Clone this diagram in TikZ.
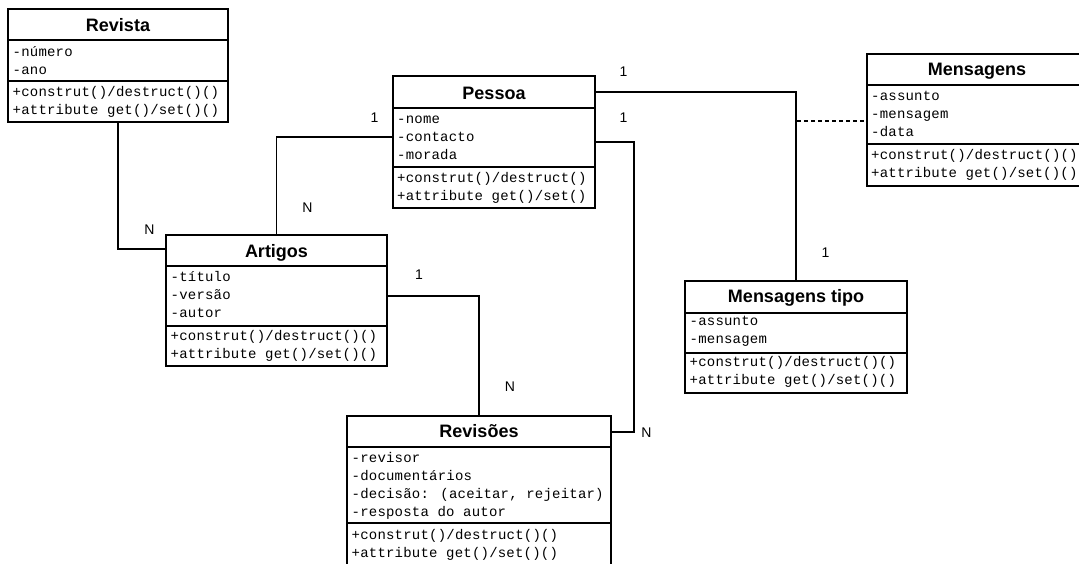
\documentclass[tikz,border=0pt]{standalone}
\usepackage{fontspec}
\setmainfont{Liberation Sans}
\newfontfamily\monof[LetterSpace=1.5]{Liberation Mono}
\usetikzlibrary{calc}
\begin{document}
\begin{tikzpicture}[x=1pt,y=-1pt,
  box/.style={draw, line width=1.6pt, inner sep=0pt, outer sep=0pt, anchor=north west},
  sep/.style={line width=1.6pt},
  ttl/.style={font=\fontsize{18}{20}\selectfont\bfseries, anchor=base, inner sep=0pt},
  attr/.style={font=\monof\fontsize{14}{18}\selectfont, anchor=base west, inner sep=0pt},
  conn/.style={line width=1.6pt},
  card/.style={font=\fontsize{14}{16}\selectfont, inner sep=0pt, anchor=center}]
\useasboundingbox (0,0) rectangle (1079,563);
\fill[white] (0,0) rectangle (1079,563);

% Revista
\node[box, minimum width=220pt, minimum height=113pt] (rev) at (8,9) {};
\draw[sep] (rev.west |- 0,40) -- (rev.east |- 0,40);
\draw[sep] (rev.west |- 0,81) -- (rev.east |- 0,81);
\node[ttl] (revT) at (118,31) {Revista};
\node[attr] (revA1) at (12.5,56) {-número};
\node[attr] (revA2) at (12.5,74) {-ano};
\node[attr] (revM1) at (12.5,96.5) {+construt()/destruct()()};
\node[attr] (revM2) at (12.5,114.5) {+attribute get()/set()()};

% Pessoa
\node[box, minimum width=202pt, minimum height=132pt] (pes) at (393,76) {};
\draw[sep] (pes.west |- 0,108) -- (pes.east |- 0,108);
\draw[sep] (pes.west |- 0,167) -- (pes.east |- 0,167);
\node[ttl] (pesT) at (494,99) {Pessoa};
\node[attr] (pesA1) at (397,123.5) {-nome};
\node[attr] (pesA2) at (397,141.5) {-contacto};
\node[attr] (pesA3) at (397,159.5) {-morada};
\node[attr] (pesM1) at (397,182) {+construt()/destruct()};
\node[attr] (pesM2) at (397,200) {+attribute get()/set()};

% Mensagens
\node[box, minimum width=220pt, minimum height=132pt] (msg) at (867,54) {};
\draw[sep] (msg.west |- 0,85) -- (msg.east |- 0,85);
\draw[sep] (msg.west |- 0,144) -- (msg.east |- 0,144);
\node[ttl] (msgT) at (977,75.7) {Mensagens};
\node[attr] (msgA1) at (871,100) {-assunto};
\node[attr] (msgA2) at (871,118) {-mensagem};
\node[attr] (msgA3) at (871,136) {-data};
\node[attr] (msgM1) at (871,159) {+construt()/destruct()()};
\node[attr] (msgM2) at (871,177) {+attribute get()/set()()};

% Artigos
\node[box, minimum width=221pt, minimum height=131pt] (art) at (166,235) {};
\draw[sep] (art.west |- 0,266) -- (art.east |- 0,266);
\draw[sep] (art.west |- 0,326) -- (art.east |- 0,326);
\node[ttl] (artT) at (276.5,257) {Artigos};
\node[attr] (artA1) at (170.5,281) {-título};
\node[attr] (artA2) at (170.5,299) {-versão};
\node[attr] (artA3) at (170.5,317) {-autor};
\node[attr] (artM1) at (170.5,340) {+construt()/destruct()()};
\node[attr] (artM2) at (170.5,358) {+attribute get()/set()()};

% Revisoes
\node[box, minimum width=264pt, minimum height=152pt] (rvs) at (347,416) {};
\draw[sep] (rvs.west |- 0,447) -- (rvs.east |- 0,447);
\draw[sep] (rvs.west |- 0,523) -- (rvs.east |- 0,523);
\node[ttl] (rvsT) at (479,437.5) {Revisões};
\node[attr] (rvsA1) at (351.5,462.5) {-revisor};
\node[attr] (rvsA2) at (351.5,480.5) {-documentários};
\node[attr] (rvsA3) at (351.5,498.5) {-decisão: (aceitar, rejeitar)};
\node[attr] (rvsA4) at (351.5,516.5) {-resposta do autor};
\node[attr] (rvsM1) at (351.5,539) {+construt()/destruct()()};
\node[attr] (rvsM2) at (351.5,557) {+attribute get()/set()()};

% Mensagens tipo
\node[box, minimum width=222pt, minimum height=112pt] (mt) at (685,281) {};
\draw[sep] (mt.west |- 0,313) -- (mt.east |- 0,313);
\draw[sep] (mt.west |- 0,353) -- (mt.east |- 0,353);
\node[ttl] (mtT) at (796,302) {Mensagens tipo};
\node[attr] (mtA1) at (689.5,325) {-assunto};
\node[attr] (mtA2) at (689.5,343) {-mensagem};
\node[attr] (mtM1) at (689.5,366.5) {+construt()/destruct()()};
\node[attr] (mtM2) at (689.5,384.5) {+attribute get()/set()()};

% connectors
\draw[conn] (rev.south) |- (art.west |- 0,249);
\draw[conn] (pes.west |- 0,137) -| (art.north);
\draw[conn] (pes.east |- 0,92) -| (mt.north);
\draw[conn] (art.east |- 0,296) -| (rvs.north);
\coordinate (c1) at (634,432);
\draw[conn] (pes.east |- 0,142) -| (c1) -- (rvs.east |- c1);
\coordinate (d1) at (797,121);
\draw[conn, dash pattern=on 4pt off 3pt] (d1) -- (msg.west |- d1);

% cardinalities
\node[card] (k1) at (623.5,72) {1};
\node[card] (k2) at (623.5,118) {1};
\node[card] (k3) at (374.5,118) {1};
\node[card] (k4) at (307.5,208) {N};
\node[card] (k5) at (149.5,230) {N};
\node[card] (k6) at (419,275) {1};
\node[card] (k7) at (510,387) {N};
\node[card] (k8) at (646.5,433) {N};
\node[card] (k9) at (825.5,253) {1};
\end{tikzpicture}
\end{document}
